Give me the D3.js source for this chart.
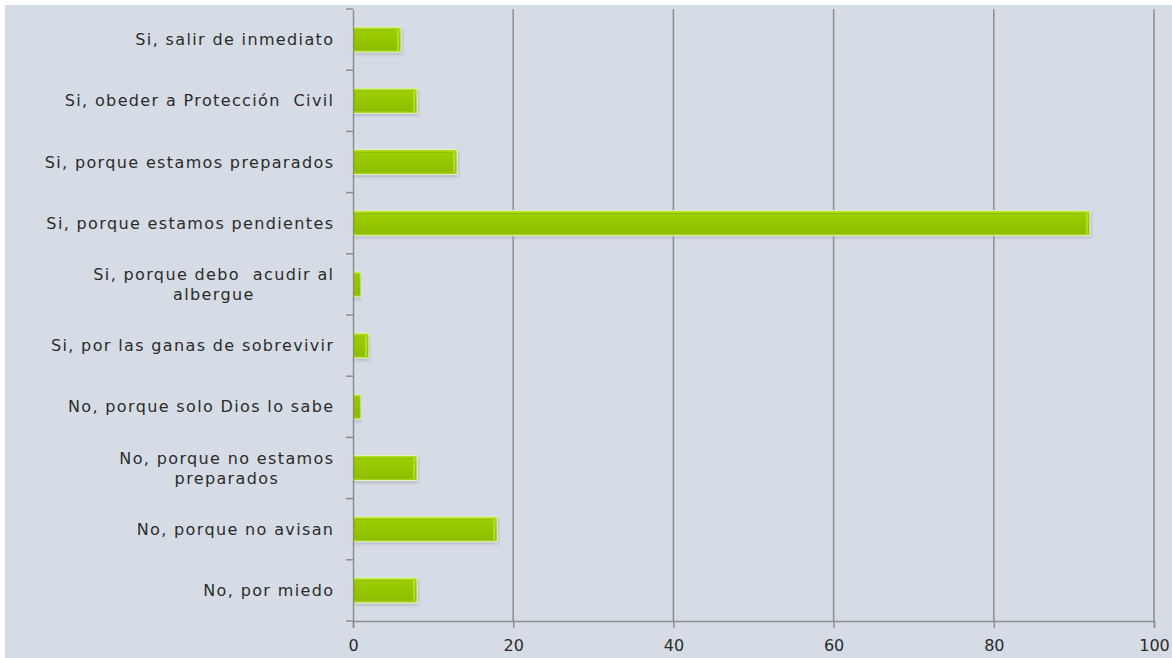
<!DOCTYPE html>
<html>
<head>
<meta charset="utf-8">
<script src="https://cdn.jsdelivr.net/npm/d3@7"></script>
<style>
  html, body { margin: 0; padding: 0; background: #ffffff; }
  svg { display: block; }
  .lbl { font-family: "DejaVu Sans", "Lato", sans-serif; fill: #2b2b2b; }
</style>
</head>
<body>
<svg id="chart" width="1172" height="658"></svg>
<script>
// Survey answers, top to bottom
const categories = [
  "Si, salir de inmediato",
  "Si, obeder a Protección  Civil",
  "Si, porque estamos preparados",
  "Si, porque estamos pendientes",
  "Si, porque debo  acudir al|albergue",
  "Si, por las ganas de sobrevivir",
  "No, porque solo Dios lo sabe",
  "No, porque no estamos|preparados",
  "No, porque no avisan",
  "No, por miedo"
];
const values = [6, 8, 13, 92, 1, 2, 1, 8, 18, 8];
const xTicks = [0, 20, 40, 60, 80, 100];

const W = 1172, H = 658;
const m = { left: 353, right: 18, top: 9, bottom: 37 };
const fontSize = 16;

const svg = d3.select("#chart");

// panel background
svg.append("rect")
  .attr("x", 5).attr("y", 5).attr("width", W - 5).attr("height", H - 5)
  .attr("fill", "#d6dce5");

const defs = svg.append("defs");
const grad = defs.append("linearGradient")
  .attr("id", "barFill").attr("x1", 0).attr("y1", 0).attr("x2", 0).attr("y2", 1);
[["0%", "#b6e322"], ["18%", "#9dcd06"], ["55%", "#94c600"], ["85%", "#8fbf00"], ["100%", "#a8d617"]]
  .forEach(([o, c]) => grad.append("stop").attr("offset", o).attr("stop-color", c));
const shadow = defs.append("filter").attr("id", "shadow")
  .attr("x", "-10%").attr("y", "-30%").attr("width", "120%").attr("height", "160%");
shadow.append("feDropShadow")
  .attr("dx", 1).attr("dy", 2).attr("stdDeviation", 1.5)
  .attr("flood-color", "#7a7f88").attr("flood-opacity", 0.35);

const x = d3.scaleLinear().domain([0, 100]).range([m.left, W - m.right]);
const y = d3.scaleBand().domain(categories).range([m.top, H - m.bottom]).paddingInner(0.59).paddingOuter(0.295);
const yOuter = d3.scaleBand().domain(categories).range([m.top, H - m.bottom]);

// vertical gridlines
svg.append("g")
  .selectAll("line")
  .data(xTicks.filter(t => t > 0))
  .join("line")
  .attr("x1", d => x(d)).attr("x2", d => x(d))
  .attr("y1", m.top).attr("y2", H - m.bottom)
  .attr("stroke", "#8e8e8e").attr("stroke-width", 1.5);

// bars
const bars = svg.append("g").selectAll("g")
  .data(categories.map((c, i) => ({ c, v: values[i] })))
  .join("g")
  .attr("filter", "url(#shadow)");

bars.append("rect")
  .attr("x", x(0))
  .attr("y", d => y(d.c))
  .attr("width", d => x(d.v) - x(0))
  .attr("height", y.bandwidth())
  .attr("fill", "url(#barFill)")
  .attr("stroke", "#e8f3c8").attr("stroke-width", 1);

// bevel: darker inner frame, lighter right edge
bars.append("rect")
  .attr("x", x(0) + 2)
  .attr("y", d => y(d.c) + 3)
  .attr("width", d => Math.max(0, x(d.v) - x(0) - 5))
  .attr("height", y.bandwidth() - 6)
  .attr("fill", "none")
  .attr("stroke", "#86b800").attr("stroke-width", 1.2).attr("opacity", 0.7);
bars.append("line")
  .attr("x1", d => x(d.v) - 3).attr("x2", d => x(d.v) - 3)
  .attr("y1", d => y(d.c) + 2).attr("y2", d => y(d.c) + y.bandwidth() - 2)
  .attr("stroke", "#b4e22a").attr("stroke-width", 2)
  .attr("opacity", d => d.v > 1 ? 0.9 : 0);

// y axis line with boundary ticks between categories
const gy = svg.append("g").attr("transform", `translate(${m.left},0)`)
  .call(d3.axisLeft(yOuter).tickSize(0).tickFormat(""));
gy.select(".domain").attr("stroke", "#8e8e8e").attr("stroke-width", 1.5);
const bounds = categories.map(c => yOuter(c)).concat([H - m.bottom]);
svg.append("g").selectAll("line").data(bounds).join("line")
  .attr("x1", m.left - 7).attr("x2", m.left)
  .attr("y1", d => d).attr("y2", d => d)
  .attr("stroke", "#8e8e8e").attr("stroke-width", 1.5);

// x axis
const gx = svg.append("g").attr("transform", `translate(0,${H - m.bottom})`)
  .call(d3.axisBottom(x).tickValues(xTicks).tickSize(7).tickPadding(12));
gx.select(".domain").attr("stroke", "#8e8e8e").attr("stroke-width", 1.5);
gx.selectAll(".tick line").attr("stroke", "#8e8e8e").attr("stroke-width", 1.5);
gx.selectAll(".tick text")
  .attr("class", "lbl").style("font-size", "16px").attr("fill", "#2b2b2b");

// category labels, right aligned; wrapped lines centred on the first line
const labelRight = 333;
const lblG = svg.append("g");

// letter spacing chosen so the longest label spans the label column
const probe = lblG.append("text").attr("class", "lbl").style("font-size", fontSize + "px")
  .text("Si, porque estamos pendientes");
const probeLen = probe.node().getComputedTextLength();
probe.remove();
const spacing = Math.max(0, (288 - probeLen) / "Si, porque estamos pendientes".length);

categories.forEach(c => {
  const lines = c.split("|");
  const cy = yOuter(c) + yOuter.bandwidth() / 2;
  const lh = 20;
  const t0 = cy - (lines.length - 1) * lh / 2;
  const first = lblG.append("text").attr("class", "lbl")
    .style("font-size", fontSize + "px").style("letter-spacing", spacing + "px")
    .attr("x", labelRight + spacing).attr("y", t0).attr("dy", "0.35em")
    .attr("text-anchor", "end").attr("xml:space", "preserve").text(lines[0]);
  if (lines.length > 1) {
    const w = first.node().getComputedTextLength();
    lblG.append("text").attr("class", "lbl")
      .style("font-size", fontSize + "px").style("letter-spacing", spacing + "px")
      .attr("x", labelRight - w / 2 + spacing).attr("y", t0 + lh).attr("dy", "0.35em")
      .attr("text-anchor", "middle").text(lines[1]);
  }
});
</script>
</body>
</html>
